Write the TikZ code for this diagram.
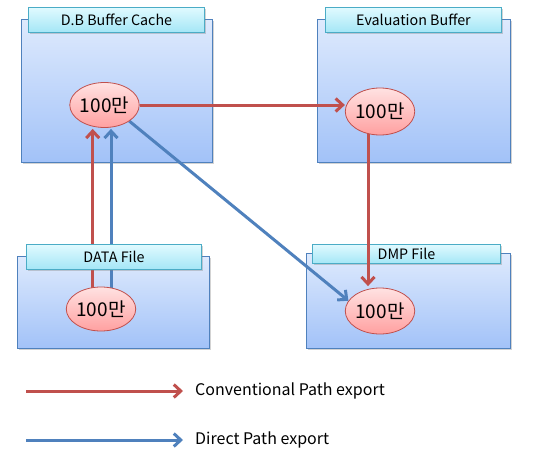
\documentclass[tikz,border=0pt]{standalone}
\usepackage{fontspec}
\setmainfont{Noto Sans CJK KR}
\usetikzlibrary{shapes.geometric,arrows.meta,shadows,calc}
\pgfdeclarelayer{bg}\pgfdeclarelayer{fg}\pgfsetlayers{bg,main,fg}
\definecolor{boxtop}{RGB}{222,234,253}
\definecolor{boxbot}{RGB}{162,194,248}
\definecolor{boxline}{RGB}{79,129,189}
\definecolor{tabtop}{RGB}{224,250,255}
\definecolor{tabbot}{RGB}{164,230,246}
\definecolor{tabline}{RGB}{75,172,198}
\definecolor{elltop}{RGB}{255,226,226}
\definecolor{ellbot}{RGB}{255,160,160}
\definecolor{ellline}{RGB}{192,80,77}
\definecolor{redarr}{RGB}{192,80,77}
\definecolor{bluearr}{RGB}{79,129,189}
\tikzset{
  bodybox/.style={rectangle, draw=boxline, line width=1pt, top color=boxtop, bottom color=boxbot,
    inner sep=0pt, anchor=north west,
    drop shadow={shadow xshift=1.5pt, shadow yshift=-1.5pt, opacity=0.35}},
  tabbox/.style={rectangle, draw=tabline, line width=1pt, top color=tabtop, bottom color=tabbot,
    inner sep=0pt, anchor=north west, font=\fontsize{14.3}{16}\selectfont,
    drop shadow={shadow xshift=1.5pt, shadow yshift=-1.5pt, opacity=0.35}},
  valell/.style={ellipse, draw=ellline, line width=0.8pt, top color=elltop, bottom color=ellbot,
    inner sep=0pt, font=\fontsize{19}{21}\selectfont},
  arrowtip/.style={-{Straight Barb[length=7pt,width=13pt]}},
  redflow/.style={draw=redarr, line width=3pt, arrowtip},
  blueflow/.style={draw=bluearr, line width=3pt, arrowtip},
  legendtext/.style={anchor=west, font=\fontsize{16}{18}\selectfont, inner sep=0pt}
}
\begin{document}
\begin{tikzpicture}[x=1pt,y=-1pt]
\useasboundingbox (0,0) rectangle (550,463);
\begin{pgfonlayer}{bg}
  \node[bodybox, minimum width=191pt, minimum height=143pt] (b1) at (21,19) {};
  \node[bodybox, minimum width=193pt, minimum height=143pt] (b2) at (317,19) {};
  \node[bodybox, minimum width=192pt, minimum height=92pt] (b3) at (17,256) {};
  \node[bodybox, minimum width=204pt, minimum height=95pt] (b4) at (306,253) {};
  \node[tabbox, minimum width=176pt, minimum height=25pt] (t1) at (28,7) {D.B Buffer Cache};
  \node[tabbox, minimum width=176pt, minimum height=25pt] (t2) at (325,7) {Evaluation Buffer};
  \node[tabbox, minimum width=188pt, minimum height=19pt] (t4) at (312,244) {DMP File};
\end{pgfonlayer}
\begin{pgfonlayer}{fg}
  \node[tabbox, minimum width=175pt, minimum height=25pt] (t3) at (26,244) {DATA File};
  \node[valell, minimum width=65pt, minimum height=45pt] (e1) at (104.5,105) {100만};
  \node[valell, minimum width=66pt, minimum height=47pt] (e2) at (380,111.5) {100만};
  \node[valell, minimum width=66pt, minimum height=44pt] (e3) at (101,309) {100만};
  \node[valell, minimum width=66pt, minimum height=46pt] (e4) at (380,311) {100만};
\end{pgfonlayer}
% flows
\draw[redflow] (e1.east) -- (e1.east -| e2.west);
\draw[redflow] ([xshift=-12pt]e2.center) -- ([xshift=-12pt,yshift=1.5pt]e4.north);
\draw[redflow] ([xshift=-8.3pt]e3.center) -- ([xshift=-11.8pt,yshift=-1pt]e1.south);
\draw[blueflow] ([xshift=10pt]e3.center) -- ([xshift=6.5pt,yshift=-1pt]e1.south);
\draw[blueflow] (e1.-33) -- (e4.162);
% legend
\coordinate (l1a) at (26,391);
\coordinate (l1b) at (183,391);
\coordinate (l2a) at (26,440);
\coordinate (l2b) at (183,440);
\draw[redflow] (l1a) -- (l1b);
\draw[blueflow] (l2a) -- (l2b);
\node[legendtext] (lt1) at (195,391) {Conventional Path export};
\node[legendtext] (lt2) at (195,440) {Direct Path export};
\end{tikzpicture}
\end{document}
